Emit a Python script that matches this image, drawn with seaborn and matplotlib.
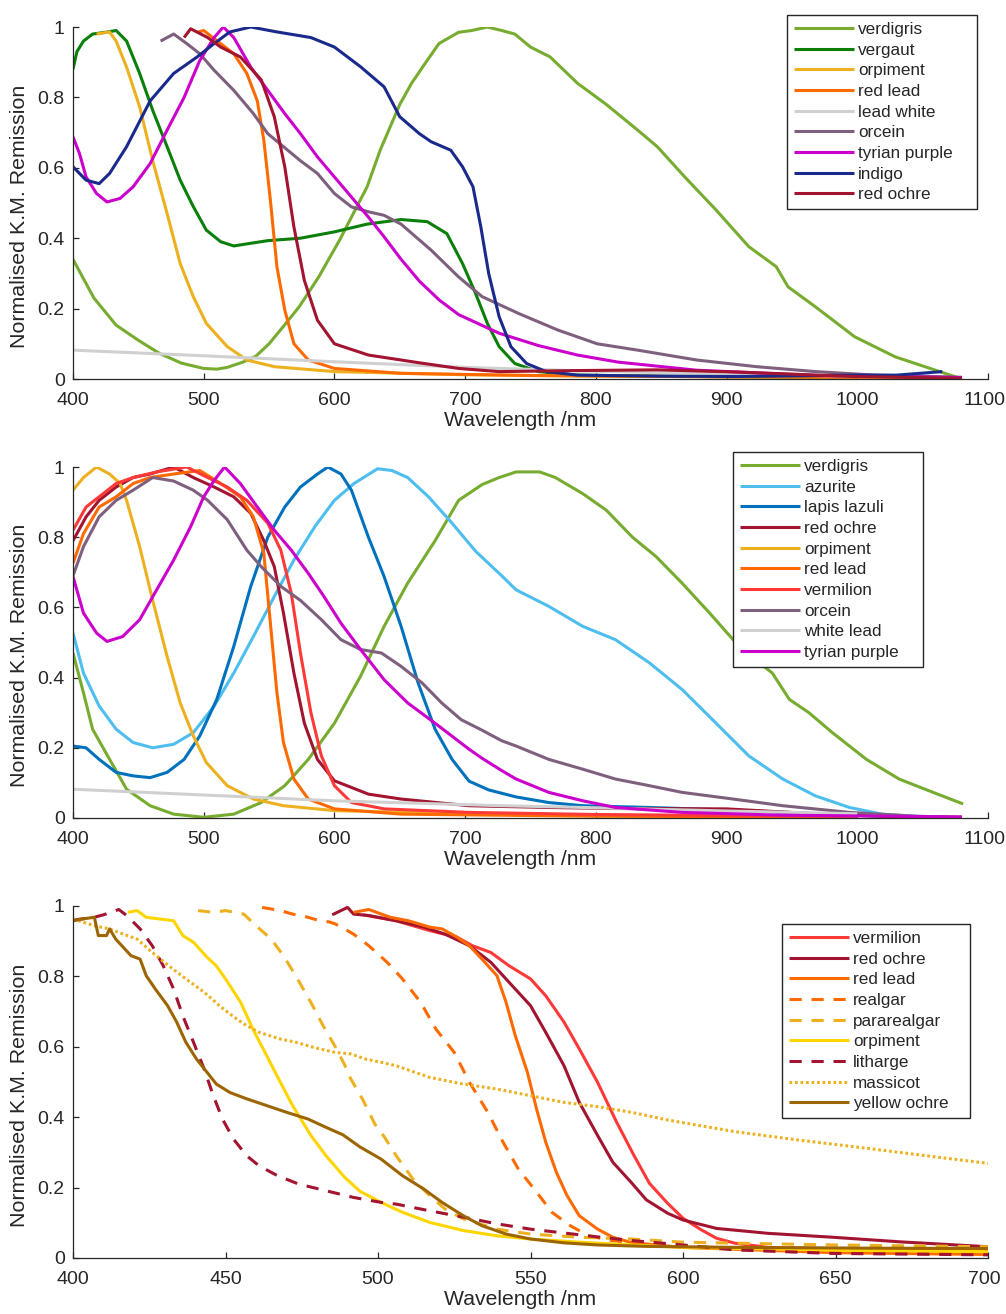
import matplotlib
matplotlib.use("Agg")
import matplotlib.pyplot as plt
import matplotlib.transforms as mtransforms
import seaborn as sns

# ---------------- Panel 1 data ----------------
p1_verdigris_wl = [400, 416, 433, 450, 466, 483, 500, 510, 518, 530, 540, 550, 560, 573, 588, 604, 625, 635, 650, 659, 670, 680, 695, 705, 717, 728, 738, 750, 765, 786, 808, 832, 847, 868, 892, 917, 938, 947, 968, 998, 1029, 1059, 1080]
p1_verdigris_v = [0.34, 0.23, 0.153, 0.11, 0.073, 0.045, 0.03, 0.028, 0.033, 0.048, 0.065, 0.10, 0.145, 0.205, 0.29, 0.395, 0.546, 0.65, 0.78, 0.84, 0.90, 0.953, 0.985, 0.99, 1.0, 0.99, 0.98, 0.943, 0.915, 0.84, 0.78, 0.707, 0.66, 0.574, 0.48, 0.376, 0.319, 0.262, 0.205, 0.12, 0.063, 0.026, 0.0]

p1_vergaut_wl = [400, 403, 408, 415, 425, 433, 441, 451, 461, 472, 482, 492, 502, 513, 523, 535, 549, 574, 600, 625, 651, 671, 686, 698, 708, 717, 726, 738, 756, 786, 850, 950, 1000]
p1_vergaut_v = [0.88, 0.93, 0.96, 0.98, 0.985, 0.99, 0.96, 0.868, 0.763, 0.66, 0.565, 0.49, 0.423, 0.39, 0.378, 0.385, 0.393, 0.40, 0.418, 0.44, 0.453, 0.447, 0.413, 0.328, 0.243, 0.158, 0.092, 0.044, 0.021, 0.011, 0.008, 0.005, 0.005]

p1_orpiment_wl = [418, 428, 433, 441, 451, 461, 472, 482, 492, 502, 518, 533, 554, 600, 700, 800, 1000]
p1_orpiment_v = [0.98, 0.986, 0.96, 0.886, 0.773, 0.62, 0.47, 0.328, 0.234, 0.158, 0.092, 0.054, 0.035, 0.021, 0.012, 0.008, 0.005]

p1_redlead_wl = [495, 500, 508, 523, 533, 541, 546, 551, 556, 562, 569, 580, 600, 651, 750, 900, 1080]
p1_redlead_v = [0.985, 0.99, 0.967, 0.924, 0.868, 0.79, 0.678, 0.508, 0.319, 0.196, 0.10, 0.054, 0.03, 0.016, 0.01, 0.006, 0.004]

p1_leadwhite_wl = [400, 500, 600, 700, 800, 900, 1000]
p1_leadwhite_v = [0.082, 0.066, 0.049, 0.033, 0.022, 0.014, 0.008]

p1_orcein_wl = [467, 477, 487, 497, 508, 523, 538, 549, 561, 574, 587, 600, 613, 626, 638, 651, 674, 695, 713, 741, 771, 801, 832, 877, 923, 968, 1014, 1059, 1080]
p1_orcein_v = [0.96, 0.98, 0.953, 0.924, 0.877, 0.82, 0.754, 0.697, 0.66, 0.62, 0.584, 0.527, 0.489, 0.475, 0.465, 0.44, 0.366, 0.29, 0.234, 0.186, 0.139, 0.10, 0.082, 0.054, 0.035, 0.021, 0.011, 0.007, 0.005]

p1_tyrian_wl = [400, 405, 410, 418, 426, 436, 446, 459, 472, 485, 497, 508, 515, 523, 536, 549, 562, 574, 587, 600, 613, 626, 638, 651, 665, 680, 695, 726, 756, 786, 817, 877, 968, 1080]
p1_tyrian_v = [0.688, 0.64, 0.574, 0.527, 0.503, 0.513, 0.546, 0.612, 0.707, 0.80, 0.905, 0.97, 1.0, 0.97, 0.886, 0.82, 0.754, 0.697, 0.631, 0.574, 0.517, 0.46, 0.404, 0.34, 0.278, 0.225, 0.183, 0.13, 0.095, 0.068, 0.048, 0.025, 0.01, 0.004]

p1_indigo_wl = [400, 410, 420, 428, 441, 459, 477, 495, 508, 520, 536, 556, 582, 600, 620, 638, 650, 665, 674, 689, 698, 706, 712, 718, 726, 735, 747, 762, 786, 850, 907, 998, 1030, 1065]
p1_indigo_v = [0.603, 0.565, 0.555, 0.584, 0.66, 0.79, 0.868, 0.915, 0.953, 0.986, 1.0, 0.986, 0.97, 0.943, 0.887, 0.83, 0.745, 0.697, 0.674, 0.65, 0.603, 0.546, 0.432, 0.30, 0.177, 0.092, 0.044, 0.021, 0.011, 0.008, 0.007, 0.011, 0.011, 0.021]

p1_redochre_wl = [485, 490, 503, 513, 528, 544, 554, 562, 569, 577, 587, 600, 626, 651, 665, 695, 726, 786, 847, 907, 998, 1080]
p1_redochre_v = [0.97, 0.995, 0.97, 0.943, 0.915, 0.85, 0.745, 0.603, 0.432, 0.28, 0.167, 0.10, 0.068, 0.054, 0.046, 0.03, 0.021, 0.024, 0.026, 0.02, 0.007, 0.002]

# ---------------- Panel 2 data ----------------
p2_verdigris_wl = [400, 408, 415, 428, 441, 459, 477, 500, 523, 544, 562, 580, 600, 620, 638, 656, 677, 695, 713, 726, 739, 757, 769, 790, 808, 828, 846, 866, 887, 905, 922, 935, 948, 963, 981, 1007, 1032, 1058, 1081]
p2_verdigris_v = [0.47, 0.357, 0.253, 0.167, 0.082, 0.035, 0.011, 0.002, 0.011, 0.044, 0.092, 0.167, 0.27, 0.404, 0.546, 0.669, 0.79, 0.905, 0.95, 0.97, 0.986, 0.986, 0.97, 0.924, 0.877, 0.80, 0.745, 0.669, 0.584, 0.508, 0.451, 0.413, 0.338, 0.30, 0.243, 0.167, 0.111, 0.073, 0.04]

p2_azurite_wl = [400, 408, 420, 433, 446, 461, 477, 492, 508, 523, 538, 554, 569, 585, 600, 615, 633, 644, 656, 672, 690, 708, 728, 739, 764, 790, 815, 841, 866, 892, 917, 943, 968, 994, 1019, 1045, 1080]
p2_azurite_v = [0.527, 0.413, 0.319, 0.253, 0.215, 0.20, 0.21, 0.243, 0.319, 0.413, 0.517, 0.631, 0.735, 0.83, 0.905, 0.953, 0.995, 0.99, 0.97, 0.915, 0.84, 0.76, 0.69, 0.65, 0.603, 0.546, 0.508, 0.442, 0.366, 0.27, 0.177, 0.111, 0.063, 0.03, 0.011, 0.005, 0.0]

p2_lapis_wl = [400, 410, 420, 433, 446, 459, 472, 485, 497, 510, 523, 536, 549, 562, 574, 587, 595, 605, 613, 626, 638, 651, 664, 677, 690, 703, 718, 739, 764, 790, 841, 917, 994, 1080]
p2_lapis_v = [0.205, 0.20, 0.167, 0.13, 0.12, 0.115, 0.13, 0.167, 0.234, 0.338, 0.489, 0.66, 0.80, 0.886, 0.943, 0.98, 1.0, 0.98, 0.934, 0.80, 0.688, 0.546, 0.385, 0.253, 0.167, 0.105, 0.08, 0.06, 0.044, 0.035, 0.03, 0.021, 0.008, 0.0]

p2_redochre_wl = [400, 410, 420, 433, 446, 459, 477, 492, 508, 523, 536, 546, 554, 561, 569, 577, 587, 600, 626, 651, 703, 764, 815, 900, 968, 1019, 1080]
p2_redochre_v = [0.79, 0.858, 0.905, 0.943, 0.97, 0.98, 1.0, 0.97, 0.943, 0.915, 0.868, 0.79, 0.716, 0.584, 0.413, 0.27, 0.167, 0.106, 0.068, 0.054, 0.035, 0.03, 0.027, 0.026, 0.012, 0.005, 0.002]

p2_orpiment_wl = [400, 408, 418, 428, 436, 441, 451, 461, 472, 482, 492, 502, 518, 538, 561, 600, 700, 800, 1000]
p2_orpiment_v = [0.934, 0.97, 1.0, 0.98, 0.953, 0.905, 0.773, 0.62, 0.46, 0.328, 0.234, 0.158, 0.092, 0.054, 0.035, 0.021, 0.012, 0.008, 0.004]

p2_redlead_wl = [400, 408, 420, 433, 446, 459, 477, 497, 513, 528, 538, 546, 551, 556, 561, 569, 580, 600, 651, 800, 1000]
p2_redlead_v = [0.726, 0.81, 0.886, 0.915, 0.953, 0.97, 0.98, 0.99, 0.953, 0.915, 0.858, 0.754, 0.555, 0.357, 0.215, 0.111, 0.054, 0.026, 0.011, 0.005, 0.003]

p2_vermilion_wl = [400, 410, 420, 433, 446, 464, 487, 503, 518, 533, 549, 559, 567, 574, 582, 590, 600, 613, 638, 703, 800, 1000]
p2_vermilion_v = [0.82, 0.886, 0.915, 0.953, 0.97, 0.986, 1.0, 0.97, 0.943, 0.905, 0.84, 0.763, 0.64, 0.47, 0.30, 0.177, 0.092, 0.044, 0.026, 0.016, 0.01, 0.004]

p2_orcein_wl = [400, 408, 420, 433, 446, 461, 477, 492, 503, 518, 533, 544, 559, 574, 590, 605, 620, 636, 651, 667, 682, 697, 713, 728, 739, 764, 790, 815, 841, 866, 905, 943, 994, 1045, 1080]
p2_orcein_v = [0.69, 0.773, 0.858, 0.905, 0.934, 0.97, 0.96, 0.934, 0.905, 0.85, 0.763, 0.716, 0.66, 0.62, 0.565, 0.508, 0.48, 0.47, 0.432, 0.385, 0.328, 0.28, 0.25, 0.22, 0.205, 0.167, 0.139, 0.111, 0.092, 0.073, 0.054, 0.035, 0.016, 0.005, 0.002]

p2_whitelead_wl = [400, 600, 728, 790, 900, 1000]
p2_whitelead_v = [0.082, 0.049, 0.035, 0.03, 0.02, 0.012]

p2_tyrian_wl = [400, 408, 418, 426, 438, 451, 464, 477, 490, 500, 508, 516, 528, 541, 554, 567, 580, 592, 605, 620, 638, 656, 677, 703, 713, 728, 739, 764, 790, 815, 866, 943, 1080]
p2_tyrian_v = [0.688, 0.584, 0.527, 0.503, 0.517, 0.565, 0.65, 0.735, 0.83, 0.915, 0.962, 1.0, 0.953, 0.886, 0.82, 0.763, 0.697, 0.631, 0.555, 0.48, 0.394, 0.328, 0.27, 0.196, 0.17, 0.135, 0.111, 0.073, 0.049, 0.03, 0.016, 0.008, 0.003]

# ---------------- Panel 3 data ----------------
p3_vermilion_wl = [495, 506, 517, 526, 531, 537, 543, 550, 555, 561, 566, 572, 578, 584, 589, 595, 600, 606, 611, 617, 628, 660, 700]
p3_vermilion_v = [0.975, 0.958, 0.93, 0.911, 0.887, 0.868, 0.83, 0.793, 0.745, 0.67, 0.594, 0.499, 0.39, 0.29, 0.212, 0.155, 0.113, 0.08, 0.056, 0.042, 0.03, 0.025, 0.02]

p3_redochre_wl = [485, 490, 492, 497, 506, 515, 522, 530, 537, 543, 550, 555, 561, 566, 572, 577, 583, 588, 595, 600, 611, 628, 649, 671, 700]
p3_redochre_v = [0.975, 0.996, 0.977, 0.973, 0.958, 0.94, 0.92, 0.887, 0.84, 0.783, 0.717, 0.641, 0.546, 0.442, 0.348, 0.272, 0.215, 0.165, 0.127, 0.108, 0.084, 0.07, 0.059, 0.046, 0.032]

p3_redlead_wl = [492, 497, 504, 510, 517, 521, 526, 530, 534, 539, 542, 545, 549, 552, 555, 558.5, 562, 566, 572, 577, 583, 588, 600, 650, 700]
p3_redlead_v = [0.982, 0.99, 0.968, 0.958, 0.94, 0.935, 0.911, 0.887, 0.85, 0.802, 0.726, 0.632, 0.527, 0.423, 0.329, 0.243, 0.177, 0.12, 0.082, 0.059, 0.044, 0.04, 0.03, 0.015, 0.01]

p3_realgar_wl = [462, 468, 472, 477, 481, 484, 486, 489, 492, 497, 503, 508, 514, 519, 525, 530, 536, 541, 546, 552, 557, 563, 569, 577, 588, 620, 660, 700]
p3_realgar_v = [0.996, 0.987, 0.977, 0.968, 0.958, 0.955, 0.949, 0.935, 0.92, 0.887, 0.84, 0.793, 0.726, 0.65, 0.584, 0.499, 0.414, 0.329, 0.253, 0.187, 0.13, 0.092, 0.063, 0.049, 0.04, 0.025, 0.018, 0.015]

p3_pararealgar_wl = [441, 446, 450, 456, 460, 465, 469, 473, 478, 482, 486, 489, 491, 495, 499, 502, 506, 511.5, 517, 522, 528, 539, 550, 566, 583, 600, 650, 700]
p3_pararealgar_v = [0.987, 0.982, 0.987, 0.977, 0.944, 0.906, 0.859, 0.802, 0.726, 0.66, 0.60, 0.55, 0.51, 0.45, 0.38, 0.345, 0.29, 0.224, 0.177, 0.139, 0.111, 0.082, 0.068, 0.059, 0.054, 0.045, 0.037, 0.032]

p3_orpiment_wl = [418, 421, 424, 428.5, 433, 436, 439.5, 444, 447, 450, 455, 459, 463.5, 468, 472, 478, 483, 489, 494, 501, 508, 517, 528, 539, 550, 566, 583, 600, 650, 700]
p3_orpiment_v = [0.982, 0.987, 0.968, 0.963, 0.958, 0.916, 0.897, 0.854, 0.83, 0.793, 0.726, 0.65, 0.575, 0.499, 0.433, 0.348, 0.29, 0.23, 0.19, 0.158, 0.13, 0.101, 0.078, 0.063, 0.054, 0.045, 0.037, 0.03, 0.022, 0.018]

p3_litharge_wl = [400, 407, 410, 415, 417.6, 422, 426, 429.6, 433, 436, 439.5, 443, 446, 449, 452.6, 457, 461, 467, 474, 483, 492, 501, 506, 517, 528, 539, 550, 561, 572, 584, 600, 617, 649, 700]
p3_litharge_v = [0.96, 0.968, 0.975, 0.99, 0.973, 0.935, 0.887, 0.83, 0.764, 0.688, 0.613, 0.537, 0.461, 0.395, 0.338, 0.29, 0.262, 0.234, 0.21, 0.191, 0.172, 0.158, 0.153, 0.134, 0.116, 0.097, 0.082, 0.071, 0.06, 0.049, 0.037, 0.023, 0.013, 0.009]

p3_massicot_wl = [400, 407, 412, 415, 421, 426, 432, 437, 443, 448, 451.5, 456, 461, 468, 473, 479, 483, 486, 491, 496, 501, 506, 517, 528, 539, 550, 561, 572, 583, 595, 617, 638, 660, 682, 700]
p3_massicot_v = [0.963, 0.944, 0.935, 0.925, 0.906, 0.868, 0.826, 0.793, 0.755, 0.717, 0.693, 0.665, 0.641, 0.622, 0.613, 0.598, 0.59, 0.584, 0.58, 0.565, 0.556, 0.546, 0.513, 0.494, 0.48, 0.461, 0.442, 0.43, 0.414, 0.392, 0.359, 0.335, 0.312, 0.288, 0.269]

p3_yellowochre_wl = [400, 403, 407, 408.3, 411, 412, 414, 419, 422, 424, 427, 431, 434, 437, 440.5, 444, 447, 451.5, 457, 463.5, 470, 477, 483, 488.5, 494, 501, 508, 515, 521, 528, 534, 542, 550, 561, 572, 588, 620, 660, 700]
p3_yellowochre_v = [0.958, 0.963, 0.968, 0.916, 0.916, 0.935, 0.906, 0.859, 0.849, 0.802, 0.764, 0.717, 0.67, 0.613, 0.565, 0.527, 0.494, 0.47, 0.452, 0.433, 0.414, 0.395, 0.371, 0.35, 0.316, 0.281, 0.234, 0.196, 0.158, 0.12, 0.092, 0.068, 0.054, 0.043, 0.037, 0.033, 0.03, 0.028, 0.027]

y_ticks = [0, 0.2, 0.4, 0.6, 0.8, 1]
y_ticklabels = ["0", "0.2", "0.4", "0.6", "0.8", "1"]
x_ticks_wide = [400, 500, 600, 700, 800, 900, 1000, 1100]
x_ticks_narrow = [400, 450, 500, 550, 600, 650, 700]
x_label = "Wavelength /nm"
y_label = "Normalised K.M. Remission"

# ---------------- styling ----------------
C_VERDIGRIS = "#77AC30"
C_VERGAUT = "#0A7F0A"
C_ORPIMENT = "#EDB120"
C_REDLEAD = "#FF6A00"
C_WHITE = "#D0D0D0"
C_ORCEIN = "#7E5F7E"
C_TYRIAN = "#CC00CC"
C_INDIGO = "#1A2A8C"
C_REDOCHRE = "#A2142F"
C_AZURITE = "#4DBEEE"
C_LAPIS = "#0072BD"
C_VERMILION = "#FF3838"
C_GOLD = "#FFD500"
C_YOCHRE = "#9C6500"

SOLID = "-"
DASH = (0, (4.0, 3.2))
DOT = (0, (0.9, 0.9))

panel1 = [
    ("verdigris", p1_verdigris_wl, p1_verdigris_v, C_VERDIGRIS, SOLID),
    ("vergaut", p1_vergaut_wl, p1_vergaut_v, C_VERGAUT, SOLID),
    ("orpiment", p1_orpiment_wl, p1_orpiment_v, C_ORPIMENT, SOLID),
    ("red lead", p1_redlead_wl, p1_redlead_v, C_REDLEAD, SOLID),
    ("lead white", p1_leadwhite_wl, p1_leadwhite_v, C_WHITE, SOLID),
    ("orcein", p1_orcein_wl, p1_orcein_v, C_ORCEIN, SOLID),
    ("tyrian purple", p1_tyrian_wl, p1_tyrian_v, C_TYRIAN, SOLID),
    ("indigo", p1_indigo_wl, p1_indigo_v, C_INDIGO, SOLID),
    ("red ochre", p1_redochre_wl, p1_redochre_v, C_REDOCHRE, SOLID),
]
panel2 = [
    ("verdigris", p2_verdigris_wl, p2_verdigris_v, C_VERDIGRIS, SOLID),
    ("azurite", p2_azurite_wl, p2_azurite_v, C_AZURITE, SOLID),
    ("lapis lazuli", p2_lapis_wl, p2_lapis_v, C_LAPIS, SOLID),
    ("red ochre", p2_redochre_wl, p2_redochre_v, C_REDOCHRE, SOLID),
    ("orpiment", p2_orpiment_wl, p2_orpiment_v, C_ORPIMENT, SOLID),
    ("red lead", p2_redlead_wl, p2_redlead_v, C_REDLEAD, SOLID),
    ("vermilion", p2_vermilion_wl, p2_vermilion_v, C_VERMILION, SOLID),
    ("orcein", p2_orcein_wl, p2_orcein_v, C_ORCEIN, SOLID),
    ("white lead", p2_whitelead_wl, p2_whitelead_v, C_WHITE, SOLID),
    ("tyrian purple", p2_tyrian_wl, p2_tyrian_v, C_TYRIAN, SOLID),
]
panel3 = [
    ("vermilion", p3_vermilion_wl, p3_vermilion_v, C_VERMILION, SOLID),
    ("red ochre", p3_redochre_wl, p3_redochre_v, C_REDOCHRE, SOLID),
    ("red lead", p3_redlead_wl, p3_redlead_v, C_REDLEAD, SOLID),
    ("realgar", p3_realgar_wl, p3_realgar_v, C_REDLEAD, DASH),
    ("pararealgar", p3_pararealgar_wl, p3_pararealgar_v, C_ORPIMENT, DASH),
    ("orpiment", p3_orpiment_wl, p3_orpiment_v, C_GOLD, SOLID),
    ("litharge", p3_litharge_wl, p3_litharge_v, C_REDOCHRE, DASH),
    ("massicot", p3_massicot_wl, p3_massicot_v, C_ORPIMENT, DOT),
    ("yellow ochre", p3_yellowochre_wl, p3_yellowochre_v, C_YOCHRE, SOLID),
]

sns.set_style("ticks")
AX_COLOR = "#262626"
plt.rcParams.update({
    "font.family": ["Liberation Sans", "DejaVu Sans"],
    "axes.edgecolor": AX_COLOR,
    "axes.linewidth": 0.9,
    "xtick.color": AX_COLOR,
    "ytick.color": AX_COLOR,
    "xtick.labelcolor": AX_COLOR,
    "ytick.labelcolor": AX_COLOR,
    "xtick.direction": "in",
    "ytick.direction": "in",
    "xtick.major.size": 4,
    "ytick.major.size": 4,
    "xtick.major.width": 0.9,
    "ytick.major.width": 0.9,
    "axes.labelcolor": AX_COLOR,
})

W, H = 1006, 1314
fig = plt.figure(figsize=(W / 100, H / 100), dpi=100)

LW = 2.2


def draw_panel(rect, curves, xlim, xticks, legend_box):
    ax = fig.add_axes(rect)
    for name, wl, v, color, ls in curves:
        sns.lineplot(x=wl, y=v, ax=ax, color=color, linewidth=LW, label=name,
                     legend=False, sort=False, estimator=None)
        line = ax.lines[-1]
        line.set_linestyle(ls)
        line.set_solid_capstyle("butt")
        line.set_dash_capstyle("butt")
    ax.set_xlim(*xlim)
    ax.set_ylim(0, 1)
    ax.set_xticks(xticks)
    ax.set_xticklabels([str(t) for t in xticks])
    ax.set_yticks(y_ticks)
    ax.set_yticklabels(y_ticklabels)
    ax.tick_params(axis="x", labelsize=14, pad=9)
    ax.tick_params(axis="y", labelsize=14, pad=6)
    # keep the right-most x tick label inside the canvas
    last = ax.get_xticklabels()[-1]
    last.set_transform(last.get_transform() +
                       mtransforms.ScaledTranslation(-4 / 100, 0, fig.dpi_scale_trans))
    ax.set_xlabel(x_label, fontsize=15.2)
    ax.set_ylabel(y_label, fontsize=15.4)
    ax.xaxis.set_label_coords(0.4885, -0.092)
    ax.yaxis.set_label_coords(-0.058, 0.462)
    ax.yaxis.label.set_verticalalignment("center")
    sns.despine(ax=ax)
    for s in ("left", "bottom"):
        ax.spines[s].set_color(AX_COLOR)
    x0, top, w = legend_box
    leg = ax.legend(loc="upper left", bbox_to_anchor=(x0, top - 0.3, w, 0.3),
                    bbox_transform=fig.transFigure, mode="expand",
                    borderaxespad=0, fontsize=12.3, frameon=True, fancybox=False,
                    framealpha=1, edgecolor=AX_COLOR, handlelength=3.5,
                    handletextpad=0.25, labelspacing=0.33, borderpad=0.42)
    leg.get_frame().set_linewidth(1.0)
    return ax


left = 73 / W
width = 915 / W
draw_panel([left, 1 - 379 / H, width, 352 / H], panel1, (400, 1100), x_ticks_wide,
           (787 / W, 1 - 15 / H, 190 / W))
draw_panel([left, 1 - 818 / H, width, 351 / H], panel2, (400, 1100), x_ticks_wide,
           (733 / W, 1 - 452 / H, 190 / W))
draw_panel([left, 1 - 1258 / H, width, 352 / H], panel3, (400, 700), x_ticks_narrow,
           (782 / W, 1 - 924 / H, 188 / W))

fig.savefig("out.png", dpi=100)
